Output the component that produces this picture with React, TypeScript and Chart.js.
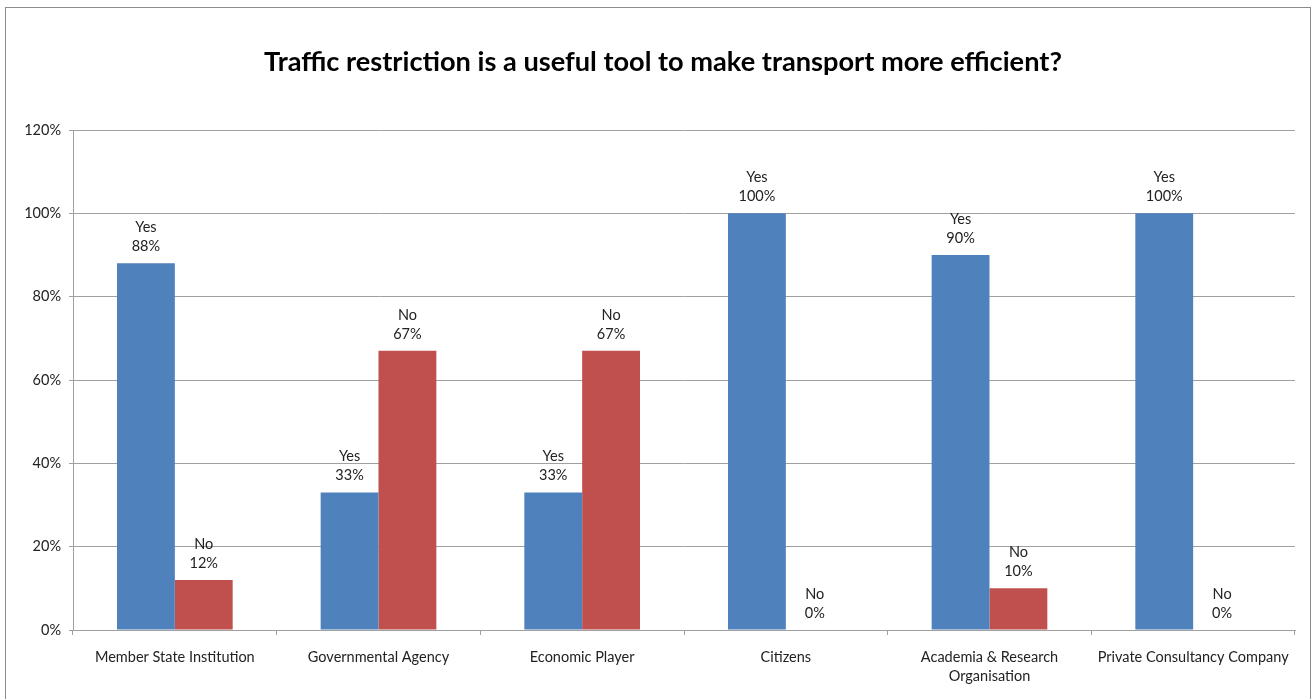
import React, { useEffect, useRef } from "react";
import { Chart, registerables } from "chart.js";

Chart.register(...registerables);

const categories: (string | string[])[] = [
  "Member State Institution",
  "Governmental Agency",
  "Economic Player",
  "Citizens",
  ["Academia & Research", "Organisation"],
  "Private Consultancy Company",
];
const yesValues = [88, 33, 33, 100, 90, 100];
const noValues = [12, 67, 67, 0, 10, 0];
const seriesNames = ["Yes", "No"];
const yTickMax = 120;
const yTickStep = 20;
const titleText = "Traffic restriction is a useful tool to make transport more efficient?";

const FONT = "Lato, 'Open Sans', sans-serif";
const SMALL = 14.5;

const labelPlugin = {
  id: "barLabels",
  afterDatasetsDraw(chart: any) {
    const ctx = chart.ctx;
    ctx.save();
    ctx.font = `${SMALL}px ${FONT}`;
    ctx.fillStyle = "#222";
    ctx.textAlign = "center";
    ctx.textBaseline = "middle";
    chart.data.datasets.forEach((ds: any, di: number) => {
      const meta = chart.getDatasetMeta(di);
      meta.data.forEach((bar: any, i: number) => {
        const v = ds.data[i];
        const x = bar.x;
        const y = bar.y;
        ctx.fillText(`${v}%`, x, y - 17);
        ctx.fillText(ds.label, x, y - 36);
      });
    });
    ctx.restore();
  },
};

const titlePlugin = {
  id: "centeredTitle",
  afterDraw(chart: any) {
    const ctx = chart.ctx;
    ctx.save();
    ctx.font = `bold 27.2px ${FONT}`;
    ctx.fillStyle = "#000";
    ctx.textAlign = "center";
    ctx.textBaseline = "middle";
    ctx.fillText(titleText, 663, 62);
    ctx.restore();
  },
};

export default function App() {
  const ref = useRef<HTMLCanvasElement | null>(null);
  useEffect(() => {
    document.body.style.margin = "0";
    const chart = new Chart(ref.current!, {
      type: "bar",
      data: {
        labels: categories,
        datasets: [
          { label: seriesNames[0], data: yesValues, backgroundColor: "#4F81BD" },
          { label: seriesNames[1], data: noValues, backgroundColor: "#C0504D" },
        ],
      },
      options: {
        animation: false,
        responsive: false,
        maintainAspectRatio: false,
        layout: { padding: { top: 130, left: 0, right: 19, bottom: 0 } },
        datasets: { bar: { categoryPercentage: 0.568, barPercentage: 1 } },
        plugins: {
          legend: { display: false },
          tooltip: { enabled: false },
          title: { display: false },
        },
        scales: {
          x: {
            grid: {
              display: true,
              offset: true,
              drawOnChartArea: false,
              drawTicks: true,
              tickLength: 5,
              color: "#a0a0a0",
            },
            border: { display: true, color: "#a0a0a0" },
            ticks: {
              color: "#222",
              font: { family: FONT, size: SMALL, lineHeight: 1.3 },
              maxRotation: 0,
              autoSkip: false,
              padding: 13,
            },
            afterFit(scale: any) {
              scale.height = 69;
            },
          },
          y: {
            min: 0,
            max: yTickMax,
            grid: { color: "#a0a0a0", tickLength: 4 },
            border: { display: true, color: "#a0a0a0" },
            ticks: {
              stepSize: yTickStep,
              color: "#222",
              font: { family: FONT, size: SMALL },
              padding: 8,
              callback: (v: any) => `${v}%`,
            },
            afterFit(scale: any) {
              scale.width = 73;
            },
          },
        },
      },
      plugins: [labelPlugin, titlePlugin],
    });
    return () => chart.destroy();
  }, []);
  return (
    <div style={{ position: "relative", width: 1314, height: 699, background: "#fff" }}>
      <div
        style={{
          position: "absolute",
          left: 5,
          top: 7,
          width: 1306,
          height: 700,
          border: "1px solid #8c8c8c",
          boxSizing: "border-box",
        }}
      />
      <canvas ref={ref} width={1314} height={699} style={{ position: "absolute", left: 0, top: 0 }} />
    </div>
  );
}
